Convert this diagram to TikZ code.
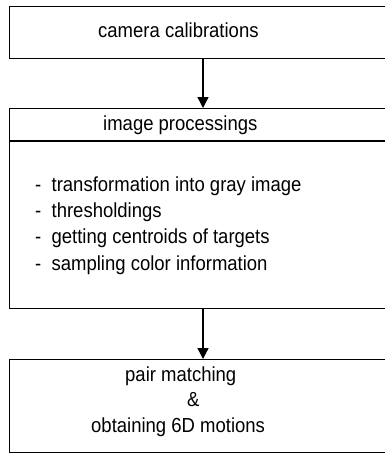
\documentclass[tikz,border=0pt]{standalone}
\usepackage{fontspec}
\setmainfont{Liberation Sans}
\usetikzlibrary{arrows.meta}
\begin{document}
\begin{tikzpicture}[x=1pt,y=-1pt,
  box/.style={draw,line width=1.3pt,inner sep=0pt,anchor=north west,minimum width=400pt},
  lbl/.style={anchor=base west,inner sep=0pt,yscale=1.1,font=\fontsize{18.5pt}{22pt}\selectfont},
  arr/.style={line width=1.3pt,-{Triangle[width=11pt,length=11pt]}}]
\useasboundingbox (0,0) rectangle (385,453);
\clip (0,0) rectangle (385,453);
\node[box,minimum height=52pt] (cam) at (9,6) {};
\node[box,minimum height=200pt] (img) at (9,108) {};
\node[box,minimum height=93pt] (pair) at (9,359) {};
\coordinate (ax) at (203,0);
\coordinate (hl) at (0,141);
\draw[line width=1.3pt] (img.west |- hl) -- (img.east |- hl);
\draw[arr] (cam.south -| ax) -- (img.north -| ax);
\draw[arr] (img.south -| ax) -- (pair.north -| ax);
\node[lbl] (t1) at (98,37.5) {camera calibrations};
\node[lbl] (t2) at (103,130) {image processings};
\node[lbl] (l1) at (35,191.5) {-\ \ transformation into gray image};
\node[lbl] (l2) at (35,217) {-\ \ thresholdings};
\node[lbl] (l3) at (35,243) {-\ \ getting centroids of targets};
\node[lbl] (l4) at (35,270.5) {-\ \ sampling color information};
\node[lbl] (p1) at (125,381.5) {pair matching};
\node[lbl] (p2) at (187,406.5) {\&};
\node[lbl] (p3) at (91,432.5) {obtaining 6D motions};
\end{tikzpicture}
\end{document}
